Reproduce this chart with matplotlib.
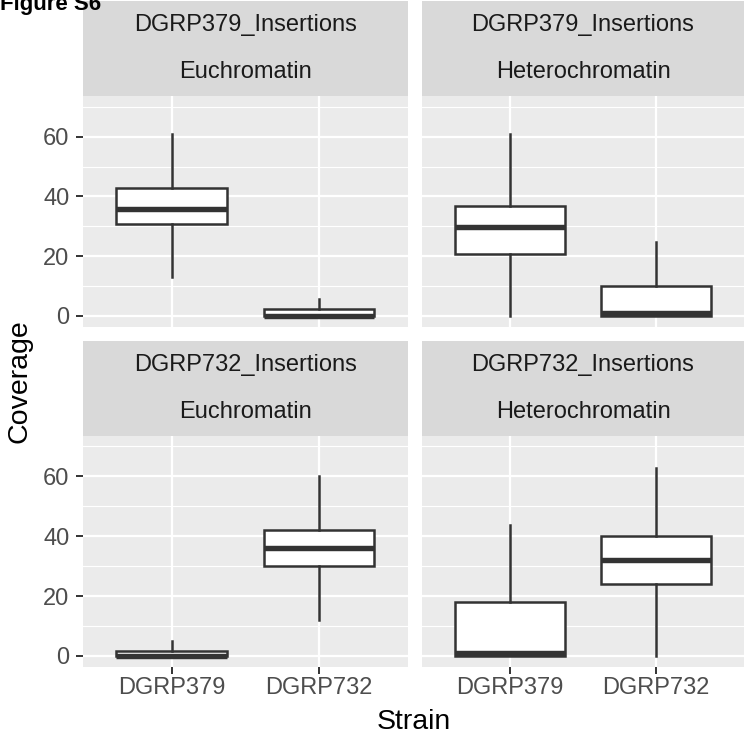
import matplotlib
matplotlib.use("Agg")
import matplotlib.pyplot as plt
from matplotlib.ticker import FixedLocator

plt.rcParams['font.family'] = ['Liberation Sans', 'DejaVu Sans']

# Facet layout
insertion_sets = ["DGRP379_Insertions", "DGRP732_Insertions"]
regions = ["Euchromatin", "Heterochromatin"]
strains = ["DGRP379", "DGRP732"]

# Box summaries per panel (row-major: insertion set x region), each ordered as `strains`
whisker_low = [[13.0, 0.0], [0.0, 0.0], [0.0, 12.0], [0.0, 0.0]]
quartile_1 = [[30.7, 0.0], [20.8, 0.0], [0.0, 30.2], [0.0, 24.0]]
median = [[35.8, 0.0], [29.9, 1.0], [0.0, 36.2], [1.0, 32.1]]
quartile_3 = [[42.7, 2.2], [36.8, 9.9], [1.8, 42.1], [18.1, 40.1]]
whisker_high = [[60.8, 5.7], [60.8, 24.6], [4.9, 60.0], [43.8, 62.8]]

W, H = 744, 736
fig = plt.figure(figsize=(W / 100, H / 100), dpi=100)


def rect(x0, y0, x1, y1):
    return [x0 / W, 1 - y1 / H, (x1 - x0) / W, (y1 - y0) / H]


col_x = [(83.0, 407.7), (422.0, 744.0)]
row_strip = [(1.3, 96.0), (341.0, 435.7)]
row_panel = [(96.0, 326.7), (435.7, 666.7)]

panel_bg = "#EBEBEB"
strip_bg = "#D9D9D9"
ink = "#333333"

for r in range(2):
    for c in range(2):
        k = r * 2 + c
        x0, x1 = col_x[c]
        s0, s1 = row_strip[r]
        p0, p1 = row_panel[r]

        # two stacked strips: insertion set on top, region below
        smid = (s0 + s1) / 2
        for (a, b), label in (((s0, smid), insertion_sets[r]), ((smid, s1), regions[c])):
            sax = fig.add_axes(rect(x0, a, x1, b))
            sax.set_facecolor(strip_bg)
            sax.set_xticks([])
            sax.set_yticks([])
            for sp in sax.spines.values():
                sp.set_visible(False)
            sax.text(0.5, 0.5, label, ha="center", va="center", fontsize=17,
                     color="#1A1A1A", transform=sax.transAxes)

        ax = fig.add_axes(rect(x0, p0, x1, p1))
        ax.set_facecolor(panel_bg)
        for sp in ax.spines.values():
            sp.set_visible(False)
        ax.set_axisbelow(True)

        stats = []
        for j, name in enumerate(strains):
            stats.append(dict(label=name, whislo=whisker_low[k][j], q1=quartile_1[k][j],
                              med=median[k][j], q3=quartile_3[k][j],
                              whishi=whisker_high[k][j], fliers=[]))
        ax.bxp(stats, positions=[1, 2], widths=0.75, patch_artist=True,
               showcaps=False, showfliers=False,
               boxprops=dict(facecolor="white", edgecolor=ink, linewidth=1.8),
               medianprops=dict(color=ink, linewidth=3.9, solid_capstyle="butt"),
               whiskerprops=dict(color=ink, linewidth=1.8))

        ax.set_xlim(0.4, 2.6)
        ax.set_ylim(-3.6, 73.6)
        ax.yaxis.set_major_locator(FixedLocator([0, 20, 40, 60]))
        ax.yaxis.set_minor_locator(FixedLocator([10, 30, 50, 70]))
        ax.set_xticks([1, 2])
        ax.grid(which="major", color="white", linewidth=1.6)
        ax.grid(which="minor", axis="y", color="white", linewidth=0.8)
        ax.tick_params(which="minor", length=0)
        ax.tick_params(which="major", length=4.8, width=1.4, color=ink,
                       labelsize=17, labelcolor="#4D4D4D")
        ax.tick_params(axis="y", pad=5)
        ax.tick_params(axis="x", pad=2.5)

        if r == 1:
            ax.set_xticklabels(strains)
        else:
            ax.tick_params(axis="x", length=0, labelbottom=False)
        if c == 0:
            ax.set_yticklabels(["0", "20", "40", "60"])
        else:
            ax.tick_params(axis="y", length=0, labelleft=False)

fig.text((83 + 744) / 2 / W, 1 - 729 / H, "Strain", ha="center", va="baseline",
         fontsize=20.5, color="black")
fig.text(19 / W, 1 - 381 / H, "Coverage", ha="center", va="center",
         rotation=90, fontsize=20.5, color="black")
fig.text(0, 1 - 10 / H, "Figure S6", ha="left", va="baseline",
         fontsize=16, fontweight="bold", color="black")

fig.savefig("out.png", dpi=100)
